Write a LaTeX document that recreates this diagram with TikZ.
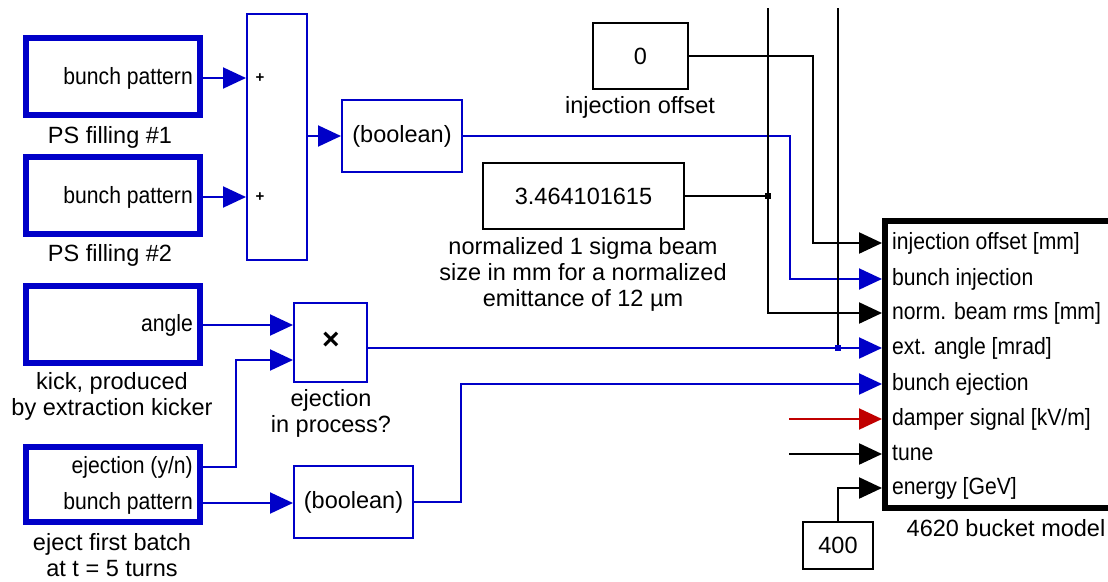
\documentclass[tikz,border=0pt]{standalone}
\usepackage{fontspec}
\setmainfont{Liberation Sans}
\newfontfamily\portfont[FakeStretch=0.9]{Liberation Sans}
\usetikzlibrary{arrows.meta}
\definecolor{sigblue}{RGB}{0,0,200}
\definecolor{sigred}{RGB}{192,0,0}

\begin{document}
\begin{tikzpicture}[x=1pt,y=-1pt,
  every node/.style={font=\fontsize{23.5}{26}\selectfont, inner sep=0pt},
  bigtext/.style={font=\fontsize{23.5}{26}\selectfont},
  srcbox/.style={draw=sigblue, line width=5.5pt, minimum width=174pt, rectangle},
  opbox/.style={draw=sigblue, line width=2pt, rectangle, bigtext},
  constbox/.style={draw=black, line width=2.5pt, rectangle, bigtext},
  modelbox/.style={draw=black, line width=6pt, rectangle},
  port/.style={font=\portfont\fontsize{23.5}{26}\selectfont, text height=16pt, text depth=4pt},
  wire/.style={line width=2pt},
  bwire/.style={wire, draw=sigblue},
  kwire/.style={wire, draw=black, line width=2.3pt},
  rwire/.style={wire, draw=sigred},
  inport/.style={-{Triangle[length=23pt,width=21pt]}},
  caption/.style={align=center, bigtext},
  junction/.style={rectangle, minimum size=6pt, inner sep=0pt},
  signmark/.style={font=\bfseries\fontsize{15}{15}\selectfont},
  mulmark/.style={font=\bfseries\fontsize{30}{30}\selectfont},
]
\useasboundingbox (0,0) rectangle (1108,581);
\clip (0,0) rectangle (1108,581);

% ---- pattern sources and their sum ----
\node[srcbox, minimum height=77pt] (ps1) at (113,76.5) {};
\node[port, anchor=east] (ps1p) at (193,78) {bunch pattern};
\node[caption] (ps1c) at (110,137) {PS filling \#1};

\node[srcbox, minimum height=77pt] (ps2) at (113,195.5) {};
\node[port, anchor=east] (ps2p) at (193,197) {bunch pattern};
\node[caption] (ps2c) at (110,255) {PS filling \#2};

\node[opbox, minimum width=60pt, minimum height=246pt] (sum) at (277,137) {};
\node[signmark] (plus1) at (260,78) {+};
\node[signmark] (plus2) at (260,197) {+};

\node[opbox, minimum width=120pt, minimum height=72pt] (bool1) at (402,136) {(boolean)};

\draw[bwire,inport] (ps1.east |- ps1p) -- (sum.west |- ps1p);
\draw[bwire,inport] (ps2.east |- ps2p) -- (sum.west |- ps2p);
\draw[bwire,inport] (sum.east |- bool1) -- (bool1.west);

% ---- kicker and ejection ----
\node[srcbox, minimum height=77pt] (kick) at (113,324.5) {};
\node[port, anchor=east] (kickp) at (193,325) {angle};
\node[caption] (kickc) at (112,396) {kick, produced\\by extraction kicker};

\node[srcbox, minimum height=75pt] (eject) at (113,484.5) {};
\node[port, anchor=east] (ejp1) at (193,467) {ejection (y/n)};
\node[port, anchor=east] (ejp2) at (193,503) {bunch pattern};
\node[caption] (ejectc) at (112,555.5) {eject first batch\\at t = 5 turns};

\node[opbox, minimum width=73pt, minimum height=79pt] (prod) at (330.5,342.5) {};
\node[mulmark] (mul) at (331,341) {×};
\node[caption] (prodc) at (331,413.5) {ejection\\in process?};

\node[opbox, minimum width=119pt, minimum height=72pt] (bool2) at (353.5,502) {(boolean)};

% ---- constants ----
\node[constbox, minimum width=95pt, minimum height=66pt] (zero) at (640.5,56) {0};
\node[caption] (zeroc) at (640,107) {injection offset};

\node[constbox, minimum width=201pt, minimum height=66pt] (sigma) at (583.5,196) {3.464101615};
\node[caption] (sigmac) at (583,274) {normalized 1 sigma beam\\size in mm for a normalized\\emittance of 12 µm};

\node[constbox, minimum width=70pt, minimum height=47pt] (en) at (838,545.5) {400};

% ---- bucket model ----
\node[modelbox, minimum width=255pt, minimum height=287pt] (model) at (1012.5,364.5) {};
\node[port, anchor=west] (p1) at (892,243) {injection offset [mm]};
\node[port, anchor=west] (p2) at (892,279) {bunch injection};
\node[port, anchor=west] (p3) at (892,313) {norm. beam rms [mm]};
\node[port, anchor=west] (p4) at (892,348) {ext. angle [mrad]};
\node[port, anchor=west] (p5) at (892,384) {bunch ejection};
\node[port, anchor=west] (p6) at (892,419) {damper signal [kV/m]};
\node[port, anchor=west] (p7) at (892,454) {tune};
\node[port, anchor=west] (p8) at (892,488) {energy [GeV]};
\node[caption] (modelc) at (1006,528) {4620 bucket model};

% ---- routing points ----
\coordinate (xinj) at (790,0);
\coordinate (xoff) at (813,0);
\coordinate (busA) at (768,8);
\coordinate (busB) at (838,8);
\coordinate (xej) at (236,0);
\coordinate (xbe) at (461,0);
\coordinate (dstart) at (789,0);
\coordinate (prodin2) at ([yshift=-17.5pt]prod.west);

% ---- connections ----
\draw[bwire,inport] (bool1.east) -- (xinj |- bool1.east) |- (model.west |- p2);
\draw[kwire,inport] (zero.east) -- (xoff |- zero.east) |- (model.west |- p1);
\draw[kwire,inport] (busA) |- (model.west |- p3);
\draw[kwire] (sigma.east) -- (busA |- sigma.east);
\node[junction, fill=black] (jA) at (busA |- sigma.east) {};
\draw[kwire] (busB) -- (busB |- p4);

\draw[bwire,inport] (kick.east |- kickp) -- (prod.west |- kickp);
\draw[bwire,inport] (eject.east |- ejp1) -- (xej |- ejp1) |- (prodin2);
\draw[bwire,inport] (prod.east |- p4) -- (model.west |- p4);
\node[junction, fill=sigblue] (jB) at (busB |- p4) {};

\draw[bwire,inport] (eject.east |- ejp2) -- (bool2.west |- ejp2);
\draw[bwire,inport] (bool2.east) -- (xbe |- bool2.east) |- (model.west |- p5);

\draw[rwire,inport] (dstart |- p6) -- (model.west |- p6);
\draw[kwire,inport] (dstart |- p7) -- (model.west |- p7);
\draw[kwire,inport] (en.north) |- (model.west |- p8);
\end{tikzpicture}
\end{document}
